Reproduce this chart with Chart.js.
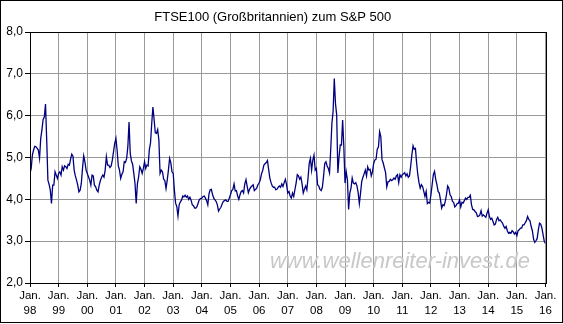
<!DOCTYPE html>
<html lang="de">
<head>
  <meta charset="UTF-8">
  <title>FTSE100 zum S&amp;P 500</title>
  <script src="https://cdn.jsdelivr.net/npm/chart.js"></script>
  <style>
    body { margin: 0; background: #fff; }
    #chart { display: block; }
  </style>
</head>
<body>
  <canvas id="chart" width="563" height="324"></canvas>

  <script>
    // ratio FTSE100 / S&P 500, ~2 values per month
    const firstYear = 1998;
    const lastYear = 2016;
    const perYear = 24;
    const y1998 = [4.62, 4.74, 5.06, 5.18, 5.27, 5.26, 5.22, 5.18, 4.98, 5.46, 5.66, 5.91, 5.97, 6.28, 5.42, 4.46, 4.36, 4.22, 3.90, 4.34, 4.34, 4.66, 4.58, 4.50];
    const y1999 = [4.62, 4.66, 4.58, 4.78, 4.70, 4.80, 4.78, 4.74, 4.84, 4.82, 4.96, 5.08, 5.03, 4.70, 4.56, 4.46, 4.34, 4.18, 4.22, 4.38, 4.74, 5.04, 4.90, 4.70];
    const y2000 = [4.62, 4.54, 4.46, 4.34, 4.58, 4.56, 4.34, 4.30, 4.22, 4.18, 4.34, 4.45, 4.53, 4.58, 4.53, 4.70, 5.02, 4.82, 4.82, 4.76, 4.80, 4.94, 5.14, 5.34];
    const y2001 = [5.46, 5.18, 4.80, 4.70, 4.50, 4.60, 4.66, 4.90, 4.88, 4.98, 5.26, 5.85, 5.10, 4.92, 4.84, 4.62, 4.38, 3.90, 4.37, 4.53, 4.78, 4.72, 4.62, 4.74];
    const y2002 = [4.90, 4.74, 4.82, 4.80, 5.19, 5.35, 5.81, 6.21, 5.91, 5.59, 5.58, 5.67, 5.42, 4.62, 4.70, 4.66, 4.48, 4.45, 4.26, 4.46, 4.70, 4.98, 4.88, 4.66];
    const y2003 = [4.62, 4.22, 3.91, 3.83, 3.60, 3.87, 3.94, 3.98, 4.08, 4.06, 4.10, 4.05, 4.08, 4.00, 4.05, 3.98, 3.87, 3.85, 3.79, 3.79, 3.83, 3.92, 4.00, 4.02];
    const y2004 = [4.03, 4.07, 4.08, 4.03, 3.97, 3.87, 4.13, 4.23, 4.24, 4.11, 4.03, 3.99, 3.95, 3.87, 3.72, 3.77, 3.81, 3.89, 3.95, 3.97, 3.99, 3.95, 3.95, 4.03];
    const y2005 = [4.11, 4.21, 4.24, 4.37, 4.20, 4.21, 4.08, 4.00, 4.11, 4.19, 4.21, 4.15, 4.37, 4.47, 4.31, 4.16, 4.24, 4.29, 4.32, 4.35, 4.21, 4.24, 4.27, 4.35];
    const y2006 = [4.39, 4.47, 4.61, 4.69, 4.82, 4.85, 4.88, 4.93, 4.71, 4.51, 4.40, 4.32, 4.29, 4.29, 4.23, 4.24, 4.29, 4.32, 4.29, 4.37, 4.31, 4.40, 4.48, 4.35];
    const y2007 = [4.15, 4.19, 4.08, 4.03, 4.15, 4.07, 4.23, 4.39, 4.59, 4.56, 4.48, 4.53, 4.37, 4.15, 4.24, 4.32, 4.23, 4.51, 4.86, 4.98, 4.70, 4.94, 5.06, 4.70];
    const y2008 = [4.74, 4.35, 4.32, 4.24, 4.21, 4.29, 4.55, 4.86, 4.90, 4.80, 4.74, 4.63, 5.18, 5.82, 6.10, 6.89, 6.29, 6.02, 4.63, 5.02, 5.30, 5.30, 5.90, 5.26];
    const y2009 = [4.39, 4.66, 4.47, 3.76, 4.15, 4.27, 4.51, 4.39, 4.37, 4.40, 4.32, 4.16, 3.90, 4.15, 4.43, 4.53, 4.61, 4.70, 4.56, 4.78, 4.70, 4.72, 4.56, 4.66];
    const y2010 = [4.86, 4.94, 4.96, 5.20, 5.25, 5.62, 5.50, 4.95, 4.87, 4.75, 4.64, 4.30, 4.42, 4.43, 4.48, 4.45, 4.47, 4.51, 4.48, 4.56, 4.59, 4.40, 4.59, 4.53];
    const y2011 = [4.59, 4.61, 4.64, 4.56, 4.61, 4.53, 4.56, 4.79, 5.06, 5.28, 5.20, 5.22, 4.87, 4.59, 4.40, 4.27, 4.35, 4.31, 4.19, 4.07, 4.19, 3.90, 3.93, 3.91];
    const y2012 = [4.11, 4.35, 4.59, 4.67, 4.48, 4.35, 4.19, 4.15, 3.99, 3.79, 3.87, 3.85, 3.95, 4.11, 4.32, 4.27, 4.11, 4.07, 3.95, 3.93, 3.82, 3.85, 3.90, 3.91];
    const y2013 = [3.99, 3.82, 3.93, 3.91, 3.97, 4.03, 4.00, 4.05, 4.05, 4.10, 3.87, 3.76, 3.75, 3.71, 3.68, 3.59, 3.60, 3.63, 3.73, 3.60, 3.63, 3.60, 3.57, 3.67];
    const y2014 = [3.75, 3.59, 3.52, 3.55, 3.47, 3.39, 3.41, 3.52, 3.57, 3.49, 3.51, 3.47, 3.43, 3.36, 3.31, 3.35, 3.25, 3.19, 3.21, 3.19, 3.25, 3.22, 3.17, 3.21];
    const y2015 = [3.13, 3.25, 3.27, 3.31, 3.31, 3.39, 3.39, 3.44, 3.49, 3.59, 3.52, 3.49, 3.35, 3.25, 3.05, 2.97, 3.01, 3.06, 3.27, 3.43, 3.41, 3.31, 3.15, 2.99];
    const y2016 = [2.95];

    const years = [y1998, y1999, y2000, y2001, y2002, y2003, y2004, y2005, y2006,
                   y2007, y2008, y2009, y2010, y2011, y2012, y2013, y2014, y2015, y2016];

    const points = [];
    years.forEach((vals, i) => {
      vals.forEach((v, j) => points.push({ x: firstYear + i + j / perYear, y: v }));
    });

    const font = 'Liberation Sans, Arial, sans-serif';

    // plot frame, outer border, watermark
    const decor = {
      id: 'decor',
      beforeDraw(chart) {
        const ctx = chart.ctx;
        ctx.save();
        ctx.fillStyle = '#fff';
        ctx.fillRect(0, 0, chart.width, chart.height);
        ctx.restore();
      },
      beforeDatasetsDraw(chart) {
        const ctx = chart.ctx;
        ctx.save();
        ctx.font = 'italic 22px ' + font;
        ctx.fillStyle = '#c8c8c8';
        ctx.textAlign = 'center';
        ctx.textBaseline = 'middle';
        ctx.fillText('www.wellenreiter-invest.de', 400, 262);
        ctx.restore();
      },
      afterDraw(chart) {
        const ctx = chart.ctx;
        const a = chart.chartArea;
        ctx.save();
        ctx.strokeStyle = '#000';
        ctx.lineWidth = 1;
        ctx.strokeRect(Math.round(a.left) + 0.5, Math.round(a.top) + 0.5,
                       Math.round(a.right - a.left), Math.round(a.bottom - a.top));
        ctx.strokeRect(0.5, 0.5, chart.width - 1, chart.height - 2);
        ctx.restore();
      }
    };

    new Chart(document.getElementById('chart'), {
      type: 'line',
      data: {
        datasets: [{
          data: points,
          borderColor: '#000080',
          borderWidth: 1.3,
          pointRadius: 0,
          tension: 0,
          fill: false
        }]
      },
      options: {
        responsive: false,
        animation: false,
        devicePixelRatio: 1,
        layout: { padding: { left: 0, right: 17.5, top: 0, bottom: 0 } },
        plugins: {
          legend: { display: false },
          tooltip: { enabled: false },
          title: {
            display: true,
            text: 'FTSE100 (Großbritannien) zum S&P 500',
            color: '#000',
            font: { family: font, size: 13, weight: 'normal' },
            padding: { top: 9.5, bottom: 7 }
          }
        },
        scales: {
          x: {
            type: 'linear',
            min: firstYear,
            max: lastYear,
            afterFit: s => { s.height = 41; },
            ticks: {
              stepSize: 1,
              autoSkip: false,
              maxRotation: 0,
              padding: 1,
              color: '#000',
              font: { family: font, size: 11.5, lineHeight: 1.3 },
              callback: v => ['Jan.', String(v % 100).padStart(2, '0')]
            },
            grid: { color: '#999', tickColor: '#000', tickLength: 4 },
            border: { color: '#000' }
          },
          y: {
            min: 2,
            max: 8,
            afterFit: s => { s.width = 30; },
            ticks: {
              stepSize: 1,
              padding: 2,
              color: '#000',
              font: { family: font, size: 12 },
              callback: v => v.toFixed(1).replace('.', ',')
            },
            grid: { color: '#999', tickColor: '#000', tickLength: 5 },
            border: { color: '#000' }
          }
        }
      },
      plugins: [decor]
    });
  </script>
</body>
</html>
